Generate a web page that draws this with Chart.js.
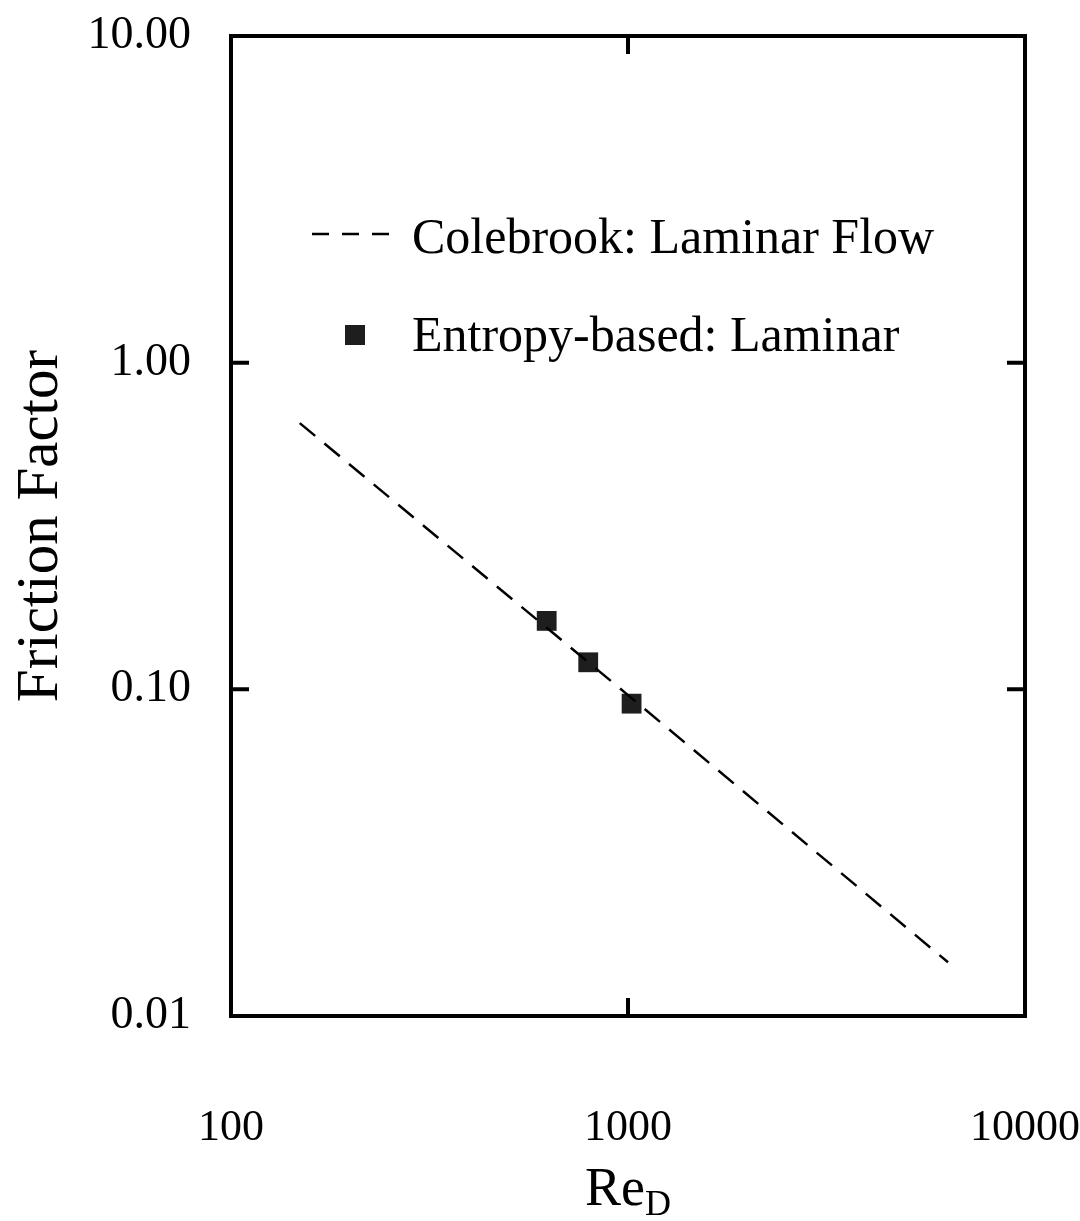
<!DOCTYPE html>
<html>
  <head>
    <title>Friction Factor vs Re_D</title>
    <script src="https://cdn.jsdelivr.net/npm/chart.js"></script>
    <style>
      body {
        margin: 0;
        background: #ffffff;
      }

      .chart-container {
        width: 1080px;
        height: 1221px;
      }
    </style>
  </head>
  <body>
    <div class="chart-container">
      <canvas id="myChart"></canvas>
    </div>

    <script>
      // Colebrook laminar line
      const colebrookRe = [149, 1000, 6400];
      const colebrookF = [0.653, 0.096, 0.0146];

      // Entropy-based laminar points
      const entropyRe = [624, 794, 1021];
      const entropyF = [0.162, 0.121, 0.0904];

      const xTicks = [100, 1000, 10000];
      const yTicks = [0.01, 0.1, 1, 10];
      const xInnerTicks = [1000];
      const yInnerTicks = [0.1, 1];

      const seriesNames = ["Colebrook: Laminar Flow", "Entropy-based: Laminar"];

      const FONT = "'Liberation Serif', 'DejaVu Serif', serif";

      function toPoints(xs, ys) {
        return xs.map((x, i) => ({ x: x, y: ys[i] }));
      }

      // frame, inward ticks, legend and x title
      const extras = {
        id: "extras",
        afterDraw(chart) {
          const ctx = chart.ctx;
          const a = chart.chartArea;
          const xs = chart.scales.x;
          const ys = chart.scales.y;
          ctx.save();
          ctx.strokeStyle = "#000";
          ctx.lineWidth = 4;
          ctx.lineJoin = "miter";
          ctx.strokeRect(a.left, a.top, a.right - a.left, a.bottom - a.top);

          ctx.lineWidth = 4;
          ctx.lineCap = "butt";
          xInnerTicks.forEach((v) => {
            const px = xs.getPixelForValue(v);
            ctx.beginPath();
            ctx.moveTo(px, a.bottom);
            ctx.lineTo(px, a.bottom - 18);
            ctx.moveTo(px, a.top);
            ctx.lineTo(px, a.top + 18);
            ctx.stroke();
          });
          yInnerTicks.forEach((v) => {
            const py = ys.getPixelForValue(v);
            ctx.beginPath();
            ctx.moveTo(a.left, py);
            ctx.lineTo(a.left + 18, py);
            ctx.moveTo(a.right, py);
            ctx.lineTo(a.right - 18, py);
            ctx.stroke();
          });

          // legend
          ctx.fillStyle = "#000";
          ctx.font = "50px " + FONT;
          ctx.textBaseline = "middle";
          ctx.textAlign = "left";
          ctx.lineWidth = 2.5;
          ctx.setLineDash([17, 13]);
          ctx.beginPath();
          ctx.moveTo(312, 234);
          ctx.lineTo(392, 234);
          ctx.stroke();
          ctx.setLineDash([]);
          ctx.fillText(seriesNames[0], 412, 240);

          ctx.fillStyle = "#1e1e1e";
          ctx.fillRect(345, 325, 20, 20);
          ctx.fillStyle = "#000";
          ctx.fillText(seriesNames[1], 412, 338);

          // x title: Re with subscript D
          ctx.textBaseline = "alphabetic";
          ctx.font = "54px " + FONT;
          const reW = ctx.measureText("Re").width;
          ctx.font = "36px " + FONT;
          const dW = ctx.measureText("D").width;
          const cx = xs.getPixelForValue(1000);
          const startX = cx - (reW + dW) / 2;
          ctx.font = "54px " + FONT;
          ctx.fillText("Re", startX, 1205);
          ctx.font = "36px " + FONT;
          ctx.fillText("D", startX + reW, 1215);
          ctx.restore();
        },
      };

      const ctx = document.getElementById("myChart").getContext("2d");
      new Chart(ctx, {
        type: "scatter",
        data: {
          datasets: [
            {
              label: seriesNames[0],
              data: toPoints(colebrookRe, colebrookF),
              showLine: true,
              borderColor: "#000",
              borderWidth: 2.5,
              borderDash: [20, 12],
              pointRadius: 0,
              fill: false,
            },
            {
              label: seriesNames[1],
              data: toPoints(entropyRe, entropyF),
              showLine: false,
              pointStyle: "rect",
              pointRadius: 14,
              backgroundColor: "#1e1e1e",
              borderColor: "#1e1e1e",
              borderWidth: 0,
            },
          ],
        },
        options: {
          responsive: true,
          maintainAspectRatio: false,
          animation: false,
          layout: {
            padding: { top: 36, right: 55, left: 0, bottom: 0 },
          },
          plugins: {
            legend: { display: false },
            tooltip: { enabled: false },
          },
          scales: {
            x: {
              type: "logarithmic",
              min: 100,
              max: 10000,
              afterBuildTicks: (s) => {
                s.ticks = xTicks.map((v) => ({ value: v }));
              },
              afterFit: (s) => {
                s.height = 205;
                s.paddingLeft = 0;
                s.paddingRight = 0;
              },
              grid: { display: false, drawTicks: false },
              border: { display: false },
              ticks: {
                autoSkip: false,
                maxRotation: 0,
                padding: 86,
                color: "#000",
                font: { family: FONT, size: 44 },
                callback: (v) => String(v),
              },
            },
            y: {
              type: "logarithmic",
              min: 0.01,
              max: 10,
              afterBuildTicks: (s) => {
                s.ticks = yTicks.map((v) => ({ value: v }));
              },
              afterFit: (s) => {
                s.width = 231;
                s.paddingTop = 0;
                s.paddingBottom = 0;
              },
              grid: { display: false, drawTicks: false },
              border: { display: false },
              ticks: {
                autoSkip: false,
                padding: 40,
                color: "#000",
                font: { family: FONT, size: 46 },
                callback: (v) => Number(v).toFixed(2),
              },
              title: {
                display: true,
                text: "Friction Factor",
                color: "#000",
                font: { family: FONT, size: 59 },
                padding: { top: 6, bottom: 0 },
              },
            },
          },
        },
        plugins: [extras],
      });
    </script>
  </body>
</html>
